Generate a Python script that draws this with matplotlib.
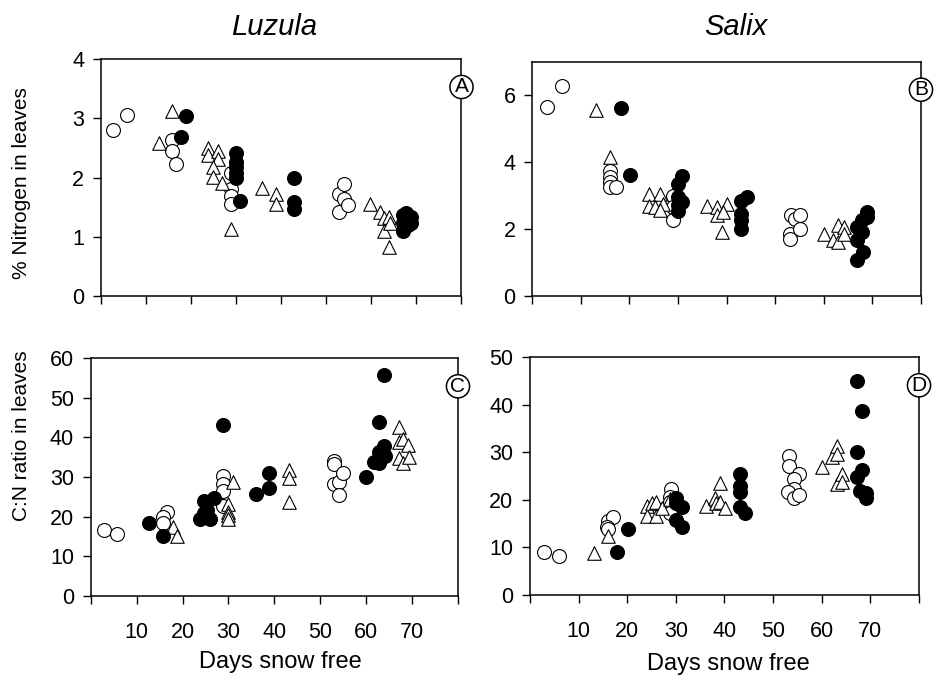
import matplotlib.pyplot as plt

plt.rcParams['font.family'] = ['Liberation Sans', 'DejaVu Sans']

# ---- Luzula, % nitrogen in leaves ----
luz_n_open_x = [2.8, 5.8, 15.7, 15.7, 16.8, 28.8, 28.8, 28.8, 28.8, 52.9, 52.9, 53.9, 53.9, 54.9]
luz_n_open_y = [2.81, 3.05, 2.63, 2.45, 2.22, 2.07, 1.80, 1.68, 1.56, 1.42, 1.72, 1.89, 1.64, 1.54]
luz_n_tri_x = [15.7, 12.9, 23.9, 23.9, 25.9, 25.9, 25.0, 25.0, 27.0, 28.8, 35.8, 38.8, 38.8,
               59.8, 61.9, 62.9, 63.9, 62.9, 64.1, 63.9]
luz_n_tri_y = [3.13, 2.58, 2.49, 2.38, 2.44, 2.32, 2.18, 2.01, 1.91, 1.13, 1.82, 1.72, 1.55,
               1.55, 1.42, 1.31, 1.34, 1.09, 1.24, 0.83]
luz_n_fill_x = [18.9, 17.9, 29.9, 29.9, 29.9, 29.9, 29.9, 30.9, 42.9, 42.9, 42.9,
                67.1, 67.8, 68.9, 67.1, 68.2, 68.9, 67.1, 68.2]
luz_n_fill_y = [3.03, 2.68, 2.41, 2.27, 2.18, 2.07, 2.00, 1.61, 1.99, 1.58, 1.46,
                1.37, 1.40, 1.34, 1.09, 1.20, 1.23, 1.23, 1.28]

# ---- Salix, % nitrogen in leaves ----
sal_n_open_x = [3.1, 6.1, 16.0, 16.0, 16.0, 16.0, 17.2, 29.0, 29.0, 29.0,
                53.1, 53.1, 53.2, 54.1, 55.1, 55.0]
sal_n_open_y = [5.64, 6.27, 3.74, 3.56, 3.40, 3.25, 3.25, 2.28, 3.00, 2.65,
                1.86, 1.71, 2.41, 2.31, 2.41, 2.01]
sal_n_tri_x = [13.2, 16.0, 24.0, 24.0, 26.2, 25.3, 27.0, 26.2, 36.0, 38.1, 38.1, 40.1, 39.2, 39.1,
               60.1, 61.8, 63.0, 64.2, 63.0, 64.2]
sal_n_tri_y = [5.57, 4.14, 3.05, 2.70, 3.05, 2.65, 2.75, 2.57, 2.70, 2.65, 2.41, 2.75, 2.50, 1.91,
               1.84, 1.66, 2.11, 2.06, 1.61, 1.86]
sal_n_fill_x = [18.2, 20.1, 30.0, 30.9, 30.0, 30.0, 30.9, 30.0, 42.9, 44.1, 42.9, 42.9, 42.9,
                68.8, 68.8, 67.8, 66.9, 67.8, 66.9, 68.0, 66.9]
sal_n_fill_y = [5.62, 3.61, 3.35, 3.59, 2.95, 2.53, 2.80, 2.73, 2.85, 2.95, 2.46, 2.26, 2.01,
                2.50, 2.36, 2.26, 2.06, 1.91, 1.66, 1.32, 1.07]

# ---- Luzula, C:N ratio in leaves ----
luz_cn_open_x = [2.8, 5.8, 16.7, 15.8, 15.8, 28.9, 28.9, 28.9, 28.9,
                 52.9, 52.9, 52.9, 54.0, 54.0, 54.9]
luz_cn_open_y = [16.6, 15.6, 21.2, 19.9, 18.4, 30.3, 28.2, 26.5, 22.7,
                 34.1, 33.4, 28.2, 28.8, 25.4, 31.1]
luz_cn_tri_x = [18.0, 18.9, 31.1, 30.0, 30.0, 30.0, 30.0, 43.1, 43.1, 43.1,
                67.1, 67.1, 68.0, 69.1, 67.1, 68.0, 69.3]
luz_cn_tri_y = [17.4, 15.2, 28.8, 23.3, 21.2, 20.4, 19.5, 31.8, 29.7, 23.8,
                42.7, 38.9, 39.6, 38.1, 34.7, 33.6, 35.1]
luz_cn_fill_x = [12.7, 15.8, 24.7, 26.9, 23.8, 25.9, 24.7, 25.3, 28.8, 36.0, 38.9, 38.9,
                 60.0, 63.95, 62.9, 62.9, 63.95, 61.6, 62.9, 64.0]
luz_cn_fill_y = [18.4, 15.2, 24.0, 24.6, 19.3, 19.3, 21.0, 21.7, 43.2, 25.7, 31.1, 27.3,
                 30.1, 55.8, 43.8, 36.4, 37.8, 33.9, 33.6, 35.3]

# ---- Salix, C:N ratio in leaves ----
sal_cn_open_x = [2.9, 6.0, 16.1, 17.0, 15.9, 16.1, 29.1, 28.8, 28.8, 28.8,
                 53.3, 53.3, 55.3, 54.2, 54.2, 53.1, 54.2, 55.3]
sal_cn_open_y = [9.1, 8.2, 15.6, 16.5, 14.4, 13.8, 22.4, 20.7, 19.6, 17.2,
                 29.3, 27.2, 25.5, 24.4, 22.2, 21.7, 20.5, 21.0]
sal_cn_tri_x = [13.2, 16.1, 24.0, 24.0, 25.0, 26.0, 26.0, 27.2, 28.8,
                36.2, 38.0, 39.0, 38.2, 39.0, 40.2,
                60.1, 62.2, 63.2, 63.2, 63.2, 64.2, 64.2]
sal_cn_tri_y = [8.9, 12.5, 18.7, 16.6, 19.4, 19.6, 16.6, 18.4, 20.1,
                18.7, 20.3, 23.5, 19.3, 19.6, 18.2,
                26.9, 29.1, 31.3, 29.7, 23.4, 25.4, 23.8]
sal_cn_fill_x = [17.9, 20.1, 30.0, 31.2, 30.0, 30.0, 31.2, 43.2, 43.2, 43.2, 43.2, 44.3,
                 67.3, 68.2, 67.3, 68.2, 67.3, 67.9, 69.2, 69.2]
sal_cn_fill_y = [9.1, 13.8, 20.3, 18.6, 19.3, 15.8, 14.2, 25.5, 22.9, 21.7, 18.6, 17.3,
                 45.1, 38.6, 30.0, 26.2, 24.9, 21.9, 21.4, 20.3]

day_ticks = [0, 10, 20, 30, 40, 50, 60, 70, 80]
day_labels = ['', '10', '20', '30', '40', '50', '60', '70', '']

W, H = 945, 680


def px_rect(left, top, right, bottom):
    return [left / W, 1 - bottom / H, (right - left) / W, (bottom - top) / H]


def panel(fig, rect, series, ymax, yticks, letter, show_days):
    ax = fig.add_axes(rect)
    (ox, oy), (tx, ty), (fx, fy) = series
    ax.scatter(ox, oy, s=100, marker='o', facecolors='white', edgecolors='black',
               linewidths=0.8, zorder=3)
    ax.scatter(tx, ty, s=95, marker='^', facecolors='white', edgecolors='black',
               linewidths=0.8, zorder=3)
    ax.scatter(fx, fy, s=100, marker='o', facecolors='black', edgecolors='black',
               linewidths=0.8, zorder=4)
    ax.set_xlim(0, 80)
    ax.set_ylim(0, ymax)
    ax.set_xticks(day_ticks)
    ax.set_xticklabels(day_labels if show_days else [''] * len(day_ticks))
    ax.set_yticks(yticks)
    ax.tick_params(direction='out', length=6, width=1, labelsize=15.5)
    ax.tick_params(axis='y', pad=6)
    ax.tick_params(axis='x', pad=13)
    for sp in ax.spines.values():
        sp.set_linewidth(1.1)
    ax.text(1.0, 1 - 28 / (rect[3] * H), letter, transform=ax.transAxes,
            ha='center', va='center', fontsize=15,
            bbox=dict(boxstyle='circle,pad=0.1', fc='white', ec='black', lw=1.1),
            clip_on=False, zorder=6)
    return ax


fig = plt.figure(figsize=(9.45, 6.8), dpi=100)

panel(fig, px_rect(100.7, 59, 461.5, 296),
      [(luz_n_open_x, luz_n_open_y), (luz_n_tri_x, luz_n_tri_y), (luz_n_fill_x, luz_n_fill_y)],
      4, [0, 1, 2, 3, 4], 'A', False)
panel(fig, px_rect(532.3, 61.7, 921, 296),
      [(sal_n_open_x, sal_n_open_y), (sal_n_tri_x, sal_n_tri_y), (sal_n_fill_x, sal_n_fill_y)],
      7, [0, 2, 4, 6], 'B', False)
panel(fig, px_rect(90.7, 358.3, 458, 595.7),
      [(luz_cn_open_x, luz_cn_open_y), (luz_cn_tri_x, luz_cn_tri_y), (luz_cn_fill_x, luz_cn_fill_y)],
      60, [0, 10, 20, 30, 40, 50, 60], 'C', True)
panel(fig, px_rect(530, 357.3, 919, 595),
      [(sal_cn_open_x, sal_cn_open_y), (sal_cn_tri_x, sal_cn_tri_y), (sal_cn_fill_x, sal_cn_fill_y)],
      50, [0, 10, 20, 30, 40, 50], 'D', True)

# column titles
fig.text(274 / W, 1 - 27 / H, 'Luzula', ha='center', va='center', fontsize=21, style='italic')
fig.text(736 / W, 1 - 27 / H, 'Salix', ha='center', va='center', fontsize=21, style='italic')

# axis titles
fig.text(22 / W, 1 - 183 / H, '% Nitrogen in leaves', rotation=90, ha='center', va='center', fontsize=15)
fig.text(22 / W, 1 - 436 / H, 'C:N ratio in leaves', rotation=90, ha='center', va='center', fontsize=15)
fig.text(280 / W, 1 - 662 / H, 'Days snow free', ha='center', va='center', fontsize=17)
fig.text(728 / W, 1 - 664 / H, 'Days snow free', ha='center', va='center', fontsize=17)

fig.savefig('out.png', dpi=100)
